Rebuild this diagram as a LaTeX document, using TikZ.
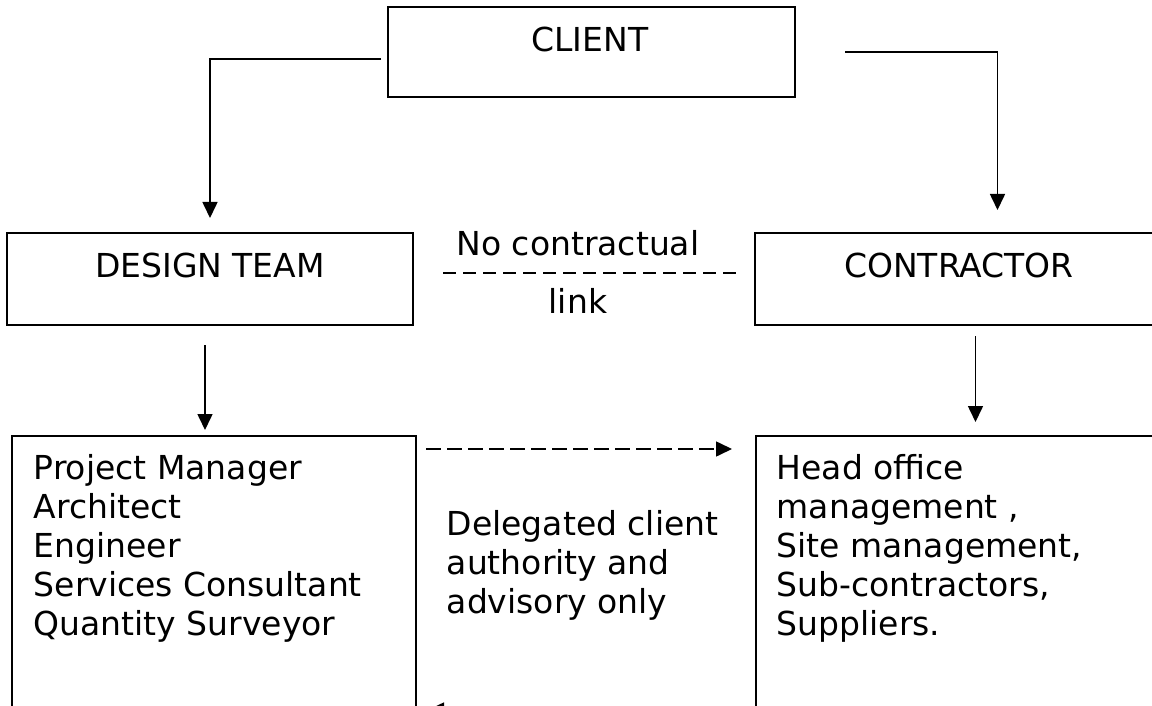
\documentclass[tikz,border=0pt]{standalone}
\usepackage{fontspec}
\setmainfont{DejaVu Sans}
\usetikzlibrary{arrows.meta}

\begin{document}
\begin{tikzpicture}[x=1pt, y=-1pt, line width=1.6pt,
    every node/.style={font=\fontsize{33pt}{39pt}\selectfont},
    box/.style={draw, line width=1.9pt, anchor=north west, inner sep=0pt, outer sep=0pt},
    arr/.style={-{Triangle[length=16pt,width=15pt]}},
    dashline/.style={dash pattern=on 13pt off 7pt},
    dasharr/.style={dash pattern=on 15pt off 6pt, -{Triangle[length=16pt,width=15pt]}}]
    \useasboundingbox (0,0) rectangle (1152,706);

    % Boxes
    \node[box, minimum width=407pt, minimum height=90pt] (client) at (388,7) {};
    \node[box, minimum width=406pt, minimum height=92pt] (design) at (7,233) {};
    \node[box, minimum width=485pt, minimum height=92pt] (contractor) at (755,233) {};
    \node[box, minimum width=404pt, minimum height=294pt] (project) at (12,436) {};
    \node[box, minimum width=484pt, minimum height=294pt] (head) at (756,436) {};

    % Box texts (multi-line nodes sit on their last line)
    \node[anchor=base] (clienttxt) at (590,52) {CLIENT};
    \node[anchor=base] (designtxt) at (210,277) {DESIGN TEAM};
    \node[anchor=base] (contrtxt) at (959,277) {CONTRACTOR};
    \node[anchor=base west, align=left, inner sep=0pt] (teamlist) at (33,635)
        {Project Manager\\Architect\\Engineer\\Services Consultant\\Quantity Surveyor};
    \node[anchor=base west, align=left, inner sep=0pt] (sitelist) at (776,635)
        {Head office\\management ,\\Site management,\\Sub-contractors,\\Suppliers.};

    % Middle labels
    \node[anchor=base] (nolink) at (578,255) {No contractual};
    \node[anchor=base] (linktxt) at (578,313) {link};
    \node[anchor=base west, align=left, inner sep=0pt] (delegated) at (446,613)
        {Delegated client\\authority and\\advisory only};

    % Client to the two parties
    \draw[arr] ([shift={(-7,7)}]client.west) -| ([yshift=15pt]design.north);
    \draw[arr] ([xshift=50pt]client.east) -| ([yshift=23pt]contractor.north);

    % Down to the lists
    \coordinate (dtfoot) at ([xshift=-5pt]design.south);
    \draw[arr, shorten <=20pt, shorten >=6pt] (dtfoot) -- (dtfoot |- project.north);
    \coordinate (cofoot) at ([xshift=-22pt]contractor.south);
    \draw[arr, shorten <=11pt, shorten >=14pt] (cofoot) -- (cofoot |- head.north);

    % Links between the two sides
    \draw[dashline] ([shift={(30,-6)}]design.east) -- ([shift={(-18,-6)}]contractor.west);
    \draw[dasharr] ([shift={(10,13)}]project.north east) -- ([shift={(-24,13)}]head.north west);
    \draw[dasharr] ([shift={(-24,274)}]head.north west) -- ([shift={(12,274)}]project.north east);
\end{tikzpicture}
\end{document}
